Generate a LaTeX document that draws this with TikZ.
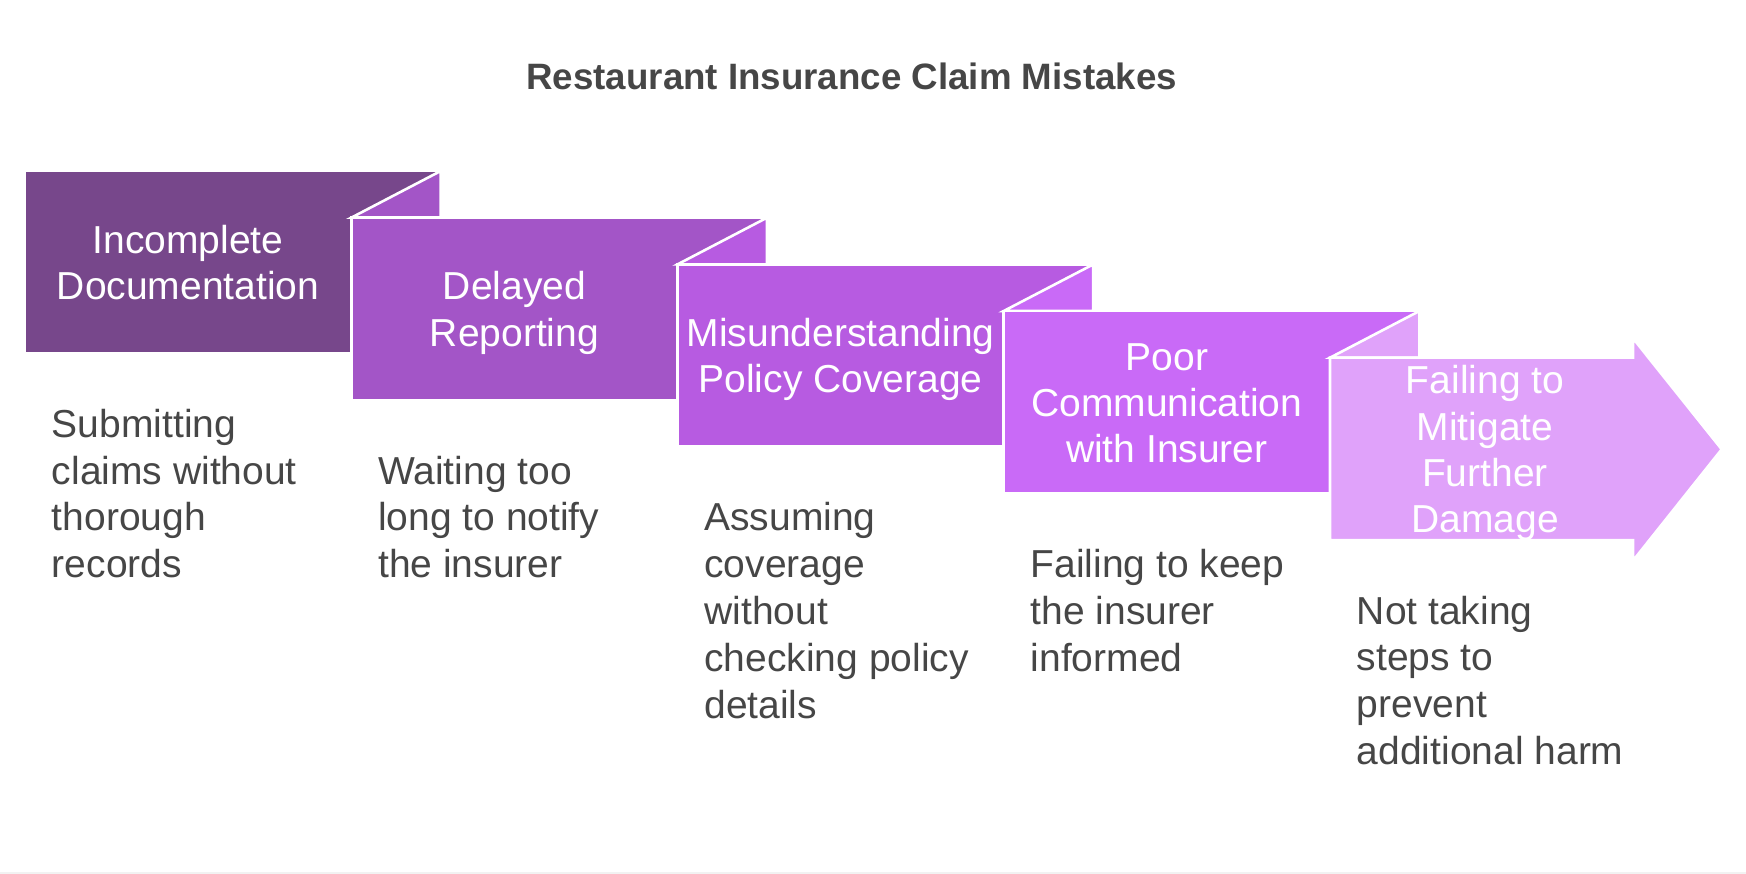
\documentclass[tikz,border=0pt]{standalone}
\usepackage{fontspec}
\setmainfont{Liberation Sans}
\definecolor{cA}{HTML}{77478B}
\definecolor{cB}{HTML}{A355C7}
\definecolor{cC}{HTML}{B75BE1}
\definecolor{cD}{HTML}{C96AF7}
\definecolor{cE}{HTML}{E0A2FA}
\definecolor{tgray}{HTML}{464646}
\tikzset{
  shapebox/.style={line width=2.6pt, draw=white, line join=miter},
  boxtext/.style={anchor=base, inner sep=0pt, text=white, font=\fontsize{39}{46.3}\selectfont},
  desctext/.style={anchor=base west, inner sep=0pt, text=tgray, font=\fontsize{39}{46.8}\selectfont},
}
\begin{document}
\begin{tikzpicture}[x=1pt,y=-1pt]
\useasboundingbox (0,0) rectangle (1746,874);
\draw[line width=2pt, black!5] (0,873) -- (1746,873);
% title
\node[anchor=base, inner sep=0pt, text=tgray, font=\bfseries\fontsize{36.7}{44}\selectfont] (title) at (851.7,90) {Restaurant Insurance Claim Mistakes};
% box 1
\fill[cA, shapebox] (25,171) rectangle (440.7,353.4);
% box 2
\fill[cB, shapebox] (351.25,217.7) -- (440.7,171) -- (440.7,217.7) -- cycle;
\fill[cB, shapebox] (351.25,217.7) rectangle (766.95,400.1);
% box 3
\fill[cC, shapebox] (677.5,264.4) -- (766.95,217.7) -- (766.95,264.4) -- cycle;
\fill[cC, shapebox] (677.5,264.4) rectangle (1093.2,446.8);
% box 4
\fill[cD, shapebox] (1003.75,311) -- (1093.2,264.4) -- (1093.2,311) -- cycle;
\fill[cD, shapebox] (1003.75,311) rectangle (1419.45,493.4);
% box 5 (arrow)
\fill[cE, shapebox] (1330,357.7) -- (1419.45,311) -- (1419.45,357.7) -- cycle;
\fill[cE, shapebox] (1330,357.7) -- (1633,357.7) -- (1633,338.3) -- (1721.7,449.3) -- (1633,560.7) -- (1633,540.1) -- (1330,540.1) -- cycle;
% box texts
\node[boxtext] (t1) at (188.1,253.2) {\begin{tabular}[t]{@{}c@{}}Incomplete\\Documentation\end{tabular}};
\node[boxtext] (t2) at (514.4,299.9) {\begin{tabular}[t]{@{}c@{}}Delayed\\Reporting\end{tabular}};
\node[boxtext] (t3) at (840.6,346.6) {\begin{tabular}[t]{@{}c@{}}Misunderstanding\\Policy Coverage\end{tabular}};
\node[boxtext] (t4) at (1166.9,370.2) {\begin{tabular}[t]{@{}c@{}}Poor\\Communication\\with Insurer\end{tabular}};
\node[boxtext] (t5) at (1485,393.9) {\begin{tabular}[t]{@{}c@{}}Failing to\\Mitigate\\Further\\Damage\end{tabular}};
% descriptions
\node[desctext] (d1) at (51.7,437.4) {\begin{tabular}[t]{@{}l@{}}Submitting\\claims without\\thorough\\records\end{tabular}};
\node[desctext] (d2) at (378,484.1) {\begin{tabular}[t]{@{}l@{}}Waiting too\\long to notify\\the insurer\end{tabular}};
\node[desctext] (d3) at (704.2,530.8) {\begin{tabular}[t]{@{}l@{}}Assuming\\coverage\\without\\checking policy\\details\end{tabular}};
\node[desctext] (d4) at (1030.5,577.4) {\begin{tabular}[t]{@{}l@{}}Failing to keep\\the insurer\\informed\end{tabular}};
\node[desctext] (d5) at (1356.7,624.1) {\begin{tabular}[t]{@{}l@{}}Not taking\\steps to\\prevent\\additional harm\end{tabular}};
\end{tikzpicture}
\end{document}
